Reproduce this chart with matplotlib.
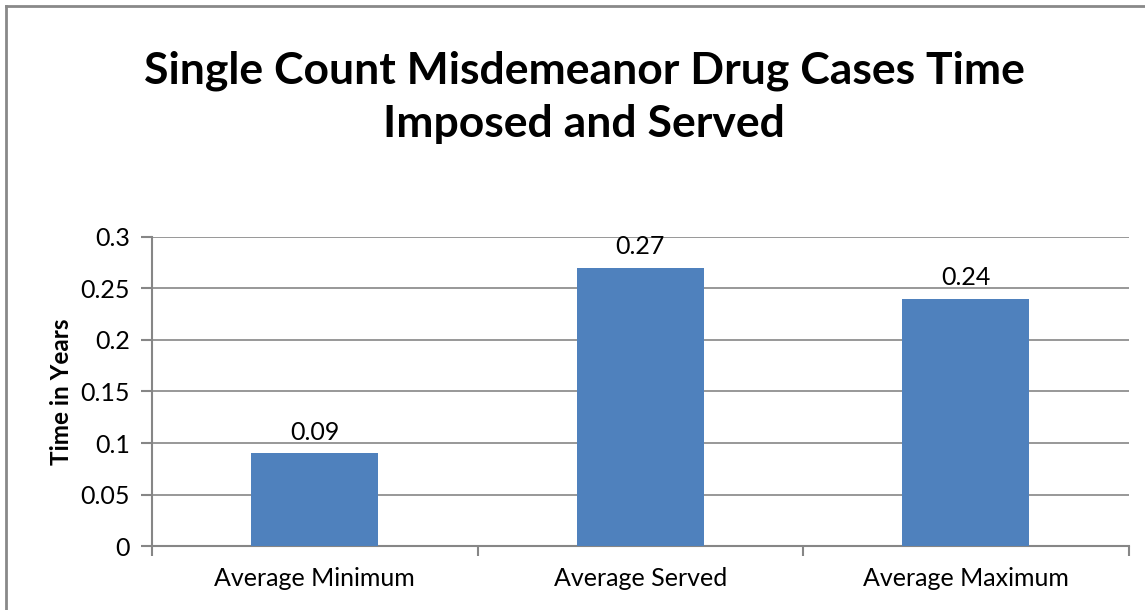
import matplotlib

matplotlib.use("Agg")
import matplotlib.pyplot as plt
from matplotlib.lines import Line2D

categories = ["Average Minimum", "Average Served", "Average Maximum"]
values = [0.09, 0.27, 0.24]
title = "Single Count Misdemeanor Drug Cases Time\nImposed and Served"
ylabel = "Time in Years"

GRAY = "#868686"
BLUE = "#4F81BD"

plt.rcParams["font.family"] = ["Lato", "DejaVu Sans"]

fig = plt.figure(figsize=(11.45, 6.1), dpi=100)
ax = fig.add_axes([0.1328, 0.1049, 0.853, 0.5066])

x = range(len(categories))
ax.bar(x, values, width=0.39, color=BLUE, zorder=3)
for xi, v in zip(x, values):
    ax.annotate(f"{v:.2f}", (xi, v), xytext=(0, 7), textcoords="offset points",
                ha="center", va="bottom", fontsize=18)

ax.set_xlim(-0.5, len(categories) - 0.5)
ax.set_ylim(0, 0.3)
ax.set_yticks([0, 0.05, 0.1, 0.15, 0.2, 0.25, 0.3], ["0", "0.05", "0.1", "0.15", "0.2", "0.25", "0.3"])
ax.set_xticks(list(x), categories)
ax.set_xticks([i + 0.5 for i in range(-1, len(categories))], minor=True)
ax.tick_params(axis="x", which="major", length=0, pad=15, labelsize=18)
ax.tick_params(axis="x", which="minor", length=7, width=1.5, color=GRAY, direction="out")
ax.tick_params(axis="y", length=8, width=1.5, color=GRAY, pad=8, labelsize=18)
ax.yaxis.grid(True, color=GRAY, linewidth=1.2, zorder=0)
for side in ["top", "right"]:
    ax.spines[side].set_visible(False)
for side in ["left", "bottom"]:
    ax.spines[side].set_color(GRAY)
    ax.spines[side].set_linewidth(1.5)
ax.set_ylabel(ylabel, fontsize=17.5, fontweight="bold", labelpad=5)

fig.text(0.510, 0.84, title, ha="center", va="center", fontsize=32,
         fontweight="bold", linespacing=1.4)

# chart frame (top and left edges visible)
fig.add_artist(Line2D([0.005, 1.0], [0.99, 0.99], color="#898989", linewidth=2, transform=fig.transFigure))
fig.add_artist(Line2D([0.005, 0.005], [0.0, 0.99], color="#898989", linewidth=2, transform=fig.transFigure))

fig.savefig("out.png", dpi=100)
